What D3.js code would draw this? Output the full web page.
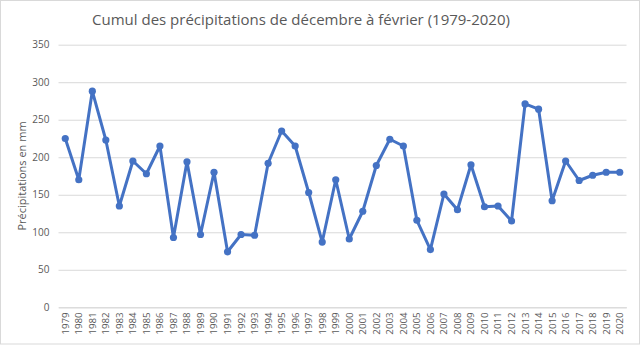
<!DOCTYPE html>
<html><head><meta charset="utf-8">
<script src="https://cdn.jsdelivr.net/npm/d3@7"></script>
<style>body{margin:0;background:#fff;}svg{display:block;font-family:"Open Sans",Calibri,sans-serif;}</style>
</head><body>
<svg id="c" width="640" height="348"></svg>
<script>
const years = ["1979","1980","1981","1982","1983","1984","1985","1986","1987","1988","1989","1990","1991","1992","1993","1994","1995","1996","1997","1998","1999","2000","2001","2002","2003","2004","2005","2006","2007","2008","2009","2010","2011","2012","2013","2014","2015","2016","2017","2018","2019","2020"];
const precip = [225,170,288,223,135,195,178,215,93,194,97,180,74,97,96,192,235,215,153,87,170,91,128,189,224,215,116,77,151,130,190,134,135,115,271,264,142,195,169,176,180,180];
const yTicks = [0,50,100,150,200,250,300,350];
const title = "Cumul des précipitations de décembre à février (1979-2020)";
const yLabel = "Précipitations en mm";

(function(){
const svg = d3.select("#c");
svg.append("rect").attr("x",0.5).attr("y",0.5).attr("width",639).attr("height",343.5)
  .attr("fill","#fff").attr("stroke","#d9d9d9");

const pl = 58.5, pr = 626.5, pt = 44.7, pb = 307.3;
const x = d3.scaleBand().domain(years).range([pl, pr]);
const y = d3.scaleLinear().domain([0,350]).range([pb, pt]);

svg.append("text").attr("x",301).attr("y",25).attr("text-anchor","middle")
  .attr("font-size",15).attr("fill","#595959").text(title);

const yAxis = svg.append("g").attr("transform",`translate(${pl},0)`)
  .call(d3.axisLeft(y).tickValues(yTicks).tickSize(-(pr-pl)).tickPadding(9));
yAxis.select(".domain").remove();
yAxis.selectAll("line").attr("stroke","#d9d9d9");
yAxis.selectAll("text").attr("fill","#595959").attr("font-size",10).attr("font-family","Open Sans");

const xAxis = svg.append("g").attr("transform",`translate(0,${pb})`)
  .call(d3.axisBottom(x).tickSize(0).tickPadding(0));
xAxis.select(".domain").attr("stroke","#d9d9d9");
xAxis.selectAll("text").attr("fill","#595959").attr("font-size",9.8).attr("font-family","Open Sans")
  .attr("text-anchor","end").attr("transform","rotate(-90)").attr("x",-5).attr("y",0).attr("dy","0.35em");

svg.append("text").attr("transform",`translate(26,${(pt+pb)/2}) rotate(-90)`)
  .attr("text-anchor","middle").attr("font-size",11).attr("fill","#595959").text(yLabel);

const data = years.map((yr,i)=>({yr, v:precip[i]}));
const line = d3.line().x(d=>x(d.yr)+x.bandwidth()/2).y(d=>y(d.v));
svg.append("path").datum(data).attr("d",line).attr("fill","none")
  .attr("stroke","#4472C4").attr("stroke-width",3).attr("stroke-linejoin","round");
svg.selectAll("circle.pt").data(data).enter().append("circle").attr("class","pt")
  .attr("cx",d=>x(d.yr)+x.bandwidth()/2).attr("cy",d=>y(d.v)).attr("r",3.6).attr("fill","#4472C4");
})();
</script>
</body></html>
